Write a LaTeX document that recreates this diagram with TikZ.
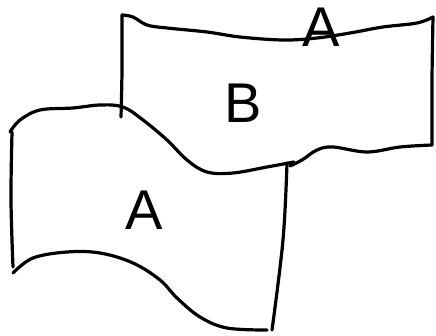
\documentclass[tikz,border=0pt]{standalone}
\usepackage{fontspec}
\setmainfont{Liberation Sans}
\begin{document}
\begin{tikzpicture}[x=1pt,y=-1pt,
  stroke/.style={line width=3.2pt,line cap=round,line join=round,black},
  letter/.style={font=\fontsize{56}{58}\selectfont,inner sep=0pt}]
\useasboundingbox (0,0) rectangle (436,336);
% back flag (B)
\draw[stroke] plot[smooth,tension=0.6] coordinates {(121,117) (122,70) (122,15)};
\draw[stroke] plot[smooth,tension=0.6] coordinates {(122,15) (133,17) (147,25) (167,28) (207,32) (240,37) (283,40) (317,38) (350,33) (383,27) (417,23) (433,17)};
\draw[stroke] plot[smooth,tension=0.6] coordinates {(433,17) (432,80) (432,145)};
\draw[stroke] plot[smooth,tension=0.6] coordinates {(432,145) (400,147) (367,152) (333,147) (317,150) (302,160) (290,166)};
% front flag (A)
\draw[stroke] plot[smooth,tension=0.6] coordinates {(10,132) (20,120) (40,110) (73,108) (100,105) (123,107) (143,120) (167,140) (187,160) (207,172) (233,173) (267,167) (294,162)};
\draw[stroke] plot[smooth,tension=0.6] coordinates {(287,163) (283,240) (272,330)};
\draw[stroke] plot[smooth,tension=0.6] coordinates {(12,132) (11,200) (13,267)};
\draw[stroke] plot[smooth,tension=0.6] coordinates {(13,273) (33,258) (67,252) (100,253) (133,263) (160,280) (177,298) (200,317) (227,328) (267,330)};
% labels
\node[letter] (la) at (321,27) {A};
\node[letter] (lb) at (243,103) {B};
\node[letter] (lc) at (144,210) {A};
\end{tikzpicture}
\end{document}
